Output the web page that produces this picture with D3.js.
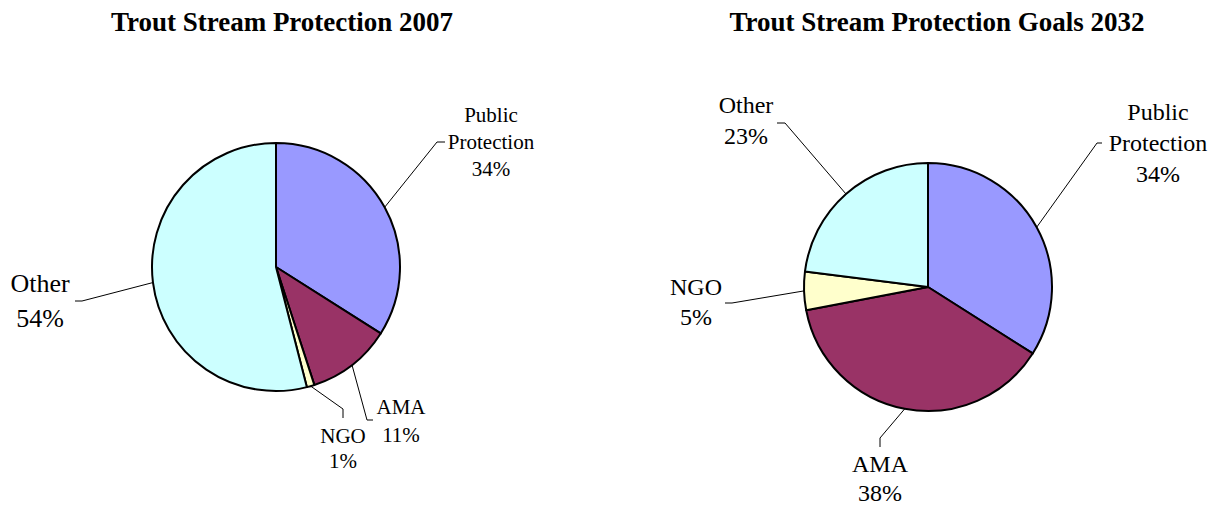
<!DOCTYPE html>
<html>
<head>
<meta charset="utf-8">
<script src="https://cdn.jsdelivr.net/npm/d3@7"></script>
<style>
  body { margin: 0; background: #fff; }
  text { font-family: "Liberation Serif", "Times New Roman", serif; fill: #000; }
</style>
</head>
<body>
<div id="chart"></div>
<script>
// data
var categories = ['Public Protection', 'AMA', 'NGO', 'Other'];
var values2007 = [34, 11, 1, 54];
var values2032 = [34, 38, 5, 23];
var titles = ['Trout Stream Protection 2007', 'Trout Stream Protection Goals 2032'];
var colors = ['#9999FF', '#993366', '#FFFFCC', '#CCFFFF'];

var w = 1218, h = 508, r = 124;

var svg = d3.select('#chart').append('svg')
  .attr('width', w)
  .attr('height', h);

// layout for each pie: centre, title, label lines and leader elbows
var pies = [
  {
    values: values2007, cx: 276, cy: 267, titleX: 282,
    labels: [
      { lines: ['Public', 'Protection', '34%'], x: 491, y: 122, size: 21, dy: 27, elbow: [[437, 142], [445, 142]] },
      { lines: ['AMA', '11%'], x: 401, y: 414, size: 21, dy: 28, elbow: [[367, 420], [373, 420]] },
      { lines: ['NGO', '1%'], x: 343, y: 443, size: 21, dy: 25, elbow: [[343, 409], [343, 418]] },
      { lines: ['Other', '54%'], x: 40, y: 292, size: 26, dy: 35, elbow: [[82, 301], [75, 301]] }
    ]
  },
  {
    values: values2032, cx: 928, cy: 287, titleX: 937,
    labels: [
      { lines: ['Public', 'Protection', '34%'], x: 1158, y: 120, size: 24, dy: 31, elbow: [[1097, 143], [1102, 143]] },
      { lines: ['AMA', '38%'], x: 880, y: 472, size: 24, dy: 29, elbow: [[880, 438], [880, 447]] },
      { lines: ['NGO', '5%'], x: 696, y: 295, size: 24, dy: 30, elbow: [[732, 303], [725, 303]] },
      { lines: ['Other', '23%'], x: 746, y: 113, size: 24, dy: 31, elbow: [[785, 123], [777, 123]] }
    ]
  }
];

var pie = d3.pie().sort(null);
var arc = d3.arc().innerRadius(0).outerRadius(r);
var edge = d3.arc().innerRadius(r).outerRadius(r);
var line = d3.line();

pies.forEach(function (p, k) {
  //title
  svg.append('text')
    .attr('x', p.titleX)
    .attr('y', 31)
    .attr('text-anchor', 'middle')
    .style('font-size', '27px')
    .style('font-weight', 'bold')
    .text(titles[k]);

  var g = svg.append('g')
    .attr('transform', 'translate(' + p.cx + ',' + p.cy + ')');

  var arcs = pie(p.values);

  g.selectAll('path.slice')
    .data(arcs)
    .enter()
    .append('path')
    .attr('class', 'slice')
    .attr('d', arc)
    .attr('fill', function (d, i) { return colors[i]; })
    .attr('stroke', '#000')
    .attr('stroke-width', 2)
    .attr('stroke-linejoin', 'round');

  // leader lines from slice edge to the label
  arcs.forEach(function (d, i) {
    var lb = p.labels[i];
    var c = edge.centroid(d);
    var pts = [[p.cx + c[0], p.cy + c[1]]].concat(lb.elbow);
    svg.append('path')
      .attr('d', line(pts))
      .attr('fill', 'none')
      .attr('stroke', '#000')
      .attr('stroke-width', 1);

    var t = svg.append('text')
      .attr('text-anchor', 'middle')
      .style('font-size', lb.size + 'px');
    lb.lines.forEach(function (s, j) {
      t.append('tspan')
        .attr('x', lb.x)
        .attr('y', lb.y + j * lb.dy)
        .text(s);
    });
  });
});
</script>
</body>
</html>
